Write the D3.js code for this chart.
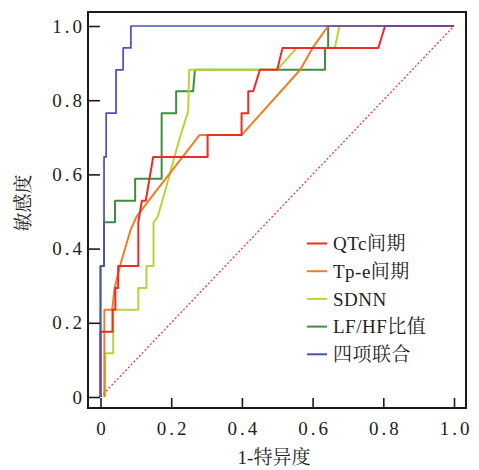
<!DOCTYPE html>
<html><head><meta charset="utf-8">
<script src="https://cdn.jsdelivr.net/npm/d3@7"></script>
<style>
html,body{margin:0;padding:0;background:#fff;}
svg{display:block;}
.serif{font-family:"Liberation Serif","Times New Roman",serif;}
.cjk{font-family:"Liberation Serif","Noto Serif CJK SC","Noto Sans CJK SC",serif;}
</style></head>
<body>
<svg id="chart" width="479" height="470"></svg>
<script>
// ---- data (1-specificity, sensitivity) ----
const seriesNames = ["QTc间期", "Tp-e间期", "SDNN", "LF/HF比值", "四项联合"];
const seriesColors = ["#ec2c25", "#f47c22", "#b9d43a", "#3d8f3f", "#4d4dbe"];

const qtcX = [0,0,0.034,0.034,0.042,0.042,0.05,0.05,0.107,0.107,0.117,0.128,0.149,0.303,0.303,0.399,0.399,0.418,0.418,0.432,0.451,0.5,0.515,0.786,0.805,1];
const qtcY = [0,0.176,0.176,0.235,0.235,0.294,0.294,0.353,0.353,0.471,0.529,0.529,0.647,0.647,0.706,0.706,0.765,0.765,0.824,0.824,0.882,0.882,0.941,0.941,1,1];

const tpeX = [0.011,0.011,0.033,0.04,0.055,0.085,0.102,0.145,0.28,0.399,0.565,0.6,0.644,1];
const tpeY = [0,0.235,0.235,0.294,0.353,0.45,0.486,0.54,0.706,0.706,0.882,0.941,1,1];

const sdnnX = [0.013,0.013,0.036,0.036,0.107,0.107,0.13,0.13,0.15,0.15,0.162,0.19,0.21,0.228,0.248,0.251,0.5,0.555,0.663,0.676,1];
const sdnnY = [0,0.118,0.118,0.235,0.235,0.294,0.294,0.353,0.353,0.471,0.486,0.58,0.65,0.71,0.77,0.882,0.882,0.941,0.941,1,1];

const lfhfX = [0,0,0.01,0.01,0.041,0.041,0.098,0.098,0.173,0.173,0.214,0.214,0.262,0.267,0.635,0.635,0.644,0.644,1];
const lfhfY = [0,0.353,0.353,0.471,0.471,0.529,0.529,0.588,0.588,0.765,0.765,0.824,0.824,0.882,0.882,0.941,0.941,1,1];

const combX = [0,0,0.01,0.01,0.016,0.016,0.044,0.044,0.064,0.064,0.086,0.086,1];
const combY = [0,0.353,0.353,0.647,0.647,0.765,0.765,0.882,0.882,0.941,0.941,1,1];

const xTicks = [0,0.2,0.4,0.6,0.8,1.0];
const yTicks = [0,0.2,0.4,0.6,0.8,1.0];
const xTickLabels = ["0","0.2","0.4","0.6","0.8","1.0"];
const yTickLabels = ["0","0.2","0.4","0.6","0.8","1.0"];
const xTitle = "1-特异度";
const yTitle = "敏感度";

// ---- drawing ----
const svg = d3.select("#chart");
const frame = {left:88, top:12, right:466, bottom:408};
const x = d3.scaleLinear().domain([0,1]).range([100.5,454]);
const y = d3.scaleLinear().domain([0,1]).range([397,26]);

// diagonal reference
svg.append("line")
  .attr("x1", x(0)).attr("y1", y(0)).attr("x2", x(1)).attr("y2", y(1))
  .attr("stroke", "#ee3b3b").attr("stroke-width", 1.3)
  .attr("stroke-dasharray", "2,2");

const allX = [qtcX, tpeX, sdnnX, lfhfX, combX];
const allY = [qtcY, tpeY, sdnnY, lfhfY, combY];
const line = d3.line().x(d => x(d[0])).y(d => y(d[1]));
// draw order: LF/HF, SDNN, Tp-e, QTc, combined
[3,2,1,0,4].forEach(i => {
  const pts = allX[i].map((v,k) => [v, allY[i][k]]);
  svg.append("path").datum(pts)
    .attr("d", line)
    .attr("fill", "none")
    .attr("stroke", seriesColors[i])
    .attr("stroke-width", i===4 ? 1.7 : 2)
    .attr("stroke-linejoin", "round");
});

// frame
svg.append("rect")
  .attr("x", frame.left).attr("y", frame.top)
  .attr("width", frame.right-frame.left).attr("height", frame.bottom-frame.top)
  .attr("fill", "none").attr("stroke", "#1a1a1a").attr("stroke-width", 2);

// x axis (ticks inward)
const xAxis = d3.axisBottom(x).tickValues(xTicks)
  .tickFormat((d,i) => xTickLabels[i]).tickSizeInner(-10).tickSizeOuter(0).tickPadding(14);
const gx = svg.append("g").attr("transform", `translate(0,${frame.bottom})`).call(xAxis);
gx.attr("font-family", null).attr("font-size", null);
gx.select(".domain").remove();
gx.selectAll(".tick line").attr("stroke", "#1a1a1a").attr("stroke-width", 1.6);
gx.selectAll(".tick text").attr("class", "serif").attr("fill", "#222")
  .style("font-size", "19px").style("letter-spacing", "3px").attr("dx", "1.5px");

const yAxis = d3.axisLeft(y).tickValues(yTicks)
  .tickFormat((d,i) => yTickLabels[i]).tickSizeInner(0).tickSizeOuter(0).tickPadding(0);
const gy = svg.append("g").attr("transform", `translate(${frame.left},0)`).call(yAxis);
gy.attr("font-family", null).attr("font-size", null);
gy.select(".domain").remove();
gy.selectAll(".tick line").attr("x2", 12).attr("stroke", "#1a1a1a").attr("stroke-width", 1.6);
gy.selectAll(".tick text").attr("class", "serif").attr("fill", "#222")
  .style("font-size", "19px").style("letter-spacing", "3px").attr("x", -3);

// axis titles
svg.append("text").attr("class", "cjk").attr("x", 274).attr("y", 464).attr("text-anchor", "middle")
  .style("font-size", "19px").attr("fill", "#222").text(xTitle);
svg.append("text").attr("class", "cjk").attr("transform", "translate(30,203) rotate(-90)")
  .attr("text-anchor", "middle").style("font-size", "19px")
  .attr("fill", "#222").text(yTitle);

// legend
const legend = svg.append("g");
seriesNames.forEach((name, i) => {
  const ly = 243.5 + i*27.7;
  legend.append("line").attr("x1", 307).attr("x2", 327).attr("y1", ly).attr("y2", ly)
    .attr("stroke", seriesColors[i]).attr("stroke-width", 2);
  legend.append("text").attr("class", "cjk").attr("x", 333).attr("y", ly).attr("dy", "0.35em")
    .style("font-size", "19px").style("letter-spacing", "0.5px").attr("fill", "#222").text(name);
});
</script>
</body></html>
